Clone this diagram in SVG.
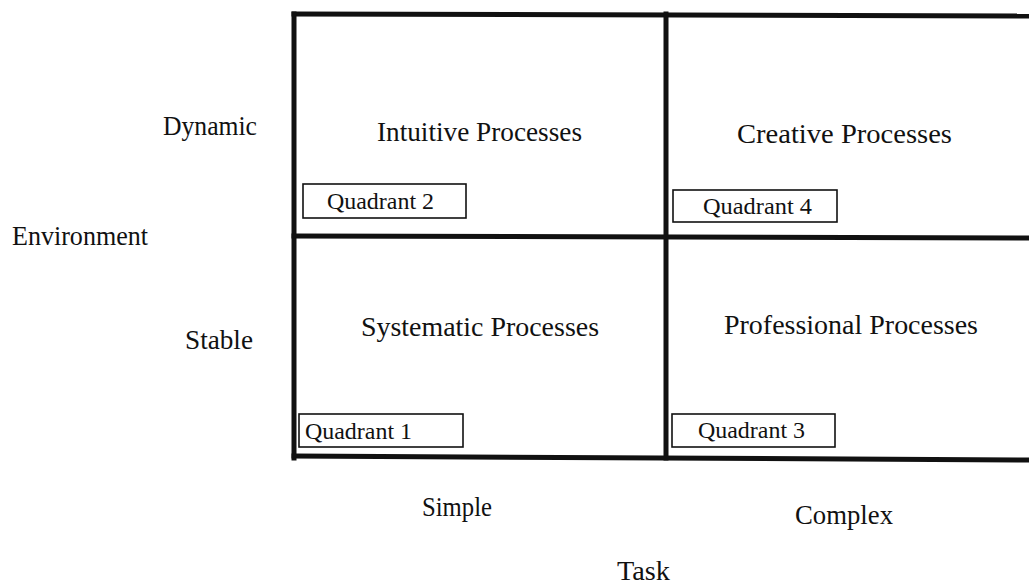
<svg xmlns="http://www.w3.org/2000/svg" width="1029" height="584" viewBox="0 0 1029 584">
  <style>
    .lbl { font-family: "Liberation Serif", "Times New Roman", serif; fill: #111; }
    .big { font-size: 28px; }
    .tag { font-size: 23px; }
    .grid { stroke: #111; stroke-width: 5; fill: none; stroke-linecap: square; }
    .box { stroke: #111; stroke-width: 1.6; fill: #fff; }
  </style>
  <rect width="1029" height="584" fill="#fff"/>

  <!-- Matrix frame -->
  <g id="connectors">
    <path class="grid" d="M294,14 L1029,16"/>
    <path class="grid" d="M294,14 L294,458"/>
    <path class="grid" d="M666,14 L666,458"/>
    <path class="grid" d="M294,236 L1029,238"/>
    <path class="grid" d="M294,456 L1029,460"/>
  </g>

  <!-- Axis labels -->
  <g id="axis-environment">
    <text class="lbl big" x="12" y="245" textLength="136" lengthAdjust="spacingAndGlyphs">Environment</text>
  </g>
  <g id="axis-dynamic">
    <text class="lbl big" x="163" y="135" textLength="94" lengthAdjust="spacingAndGlyphs">Dynamic</text>
  </g>
  <g id="axis-stable">
    <text class="lbl big" x="185" y="349" textLength="68" lengthAdjust="spacingAndGlyphs">Stable</text>
  </g>
  <g id="axis-simple">
    <text class="lbl big" x="422" y="516" textLength="70" lengthAdjust="spacingAndGlyphs">Simple</text>
  </g>
  <g id="axis-complex">
    <text class="lbl big" x="795" y="524" textLength="98" lengthAdjust="spacingAndGlyphs">Complex</text>
  </g>
  <g id="axis-task">
    <text class="lbl big" x="617" y="580" textLength="53" lengthAdjust="spacingAndGlyphs">Task</text>
  </g>

  <!-- Quadrant 2 -->
  <g id="q2">
    <text class="lbl big" x="377" y="141" textLength="205" lengthAdjust="spacingAndGlyphs">Intuitive Processes</text>
    <rect class="box" x="303" y="184" width="163" height="34"/>
    <text class="lbl tag" x="327" y="209" textLength="107" lengthAdjust="spacingAndGlyphs">Quadrant 2</text>
  </g>

  <!-- Quadrant 4 -->
  <g id="q4">
    <text class="lbl big" x="737" y="143" textLength="215" lengthAdjust="spacingAndGlyphs">Creative Processes</text>
    <rect class="box" x="673" y="190" width="164" height="32"/>
    <text class="lbl tag" x="703" y="214" textLength="109" lengthAdjust="spacingAndGlyphs">Quadrant 4</text>
  </g>

  <!-- Quadrant 1 -->
  <g id="q1">
    <text class="lbl big" x="361" y="336" textLength="238" lengthAdjust="spacingAndGlyphs">Systematic Processes</text>
    <rect class="box" x="299" y="414" width="164" height="33"/>
    <text class="lbl tag" x="305" y="439" textLength="107" lengthAdjust="spacingAndGlyphs">Quadrant 1</text>
  </g>

  <!-- Quadrant 3 -->
  <g id="q3">
    <text class="lbl big" x="724" y="334" textLength="254" lengthAdjust="spacingAndGlyphs">Professional Processes</text>
    <rect class="box" x="672" y="414" width="163" height="33"/>
    <text class="lbl tag" x="698" y="438" textLength="107" lengthAdjust="spacingAndGlyphs">Quadrant 3</text>
  </g>
</svg>
